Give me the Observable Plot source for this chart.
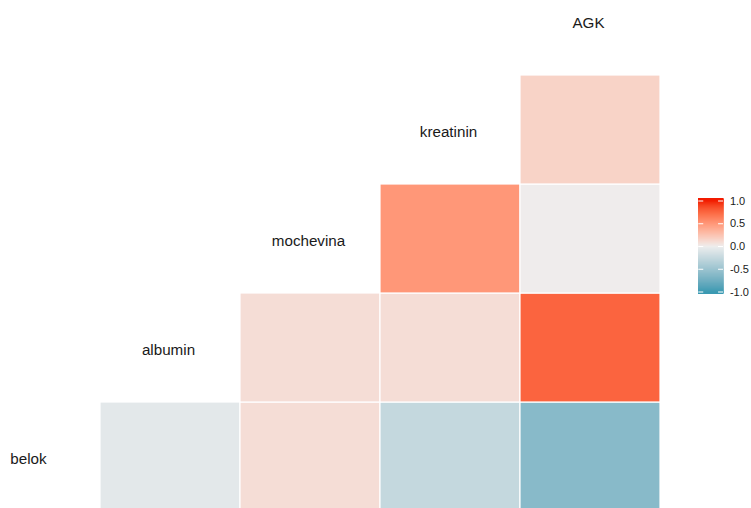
<!DOCTYPE html>
<html>
<head>
<meta charset="utf-8">
<script src="https://cdn.jsdelivr.net/npm/d3@7"></script>
<script src="https://cdn.jsdelivr.net/npm/@observablehq/plot@0.6"></script>
<style>
  html, body { margin: 0; padding: 0; background: #fff; }
  #wrap { position: relative; width: 751px; height: 508px; overflow: hidden; font-family: "Liberation Sans", Arial, sans-serif; }
  #legend { position: absolute; left: 680px; top: 180px; }
</style>
</head>
<body>
<div id="wrap"><div id="main"></div><div id="legend"></div></div>
<script>
// Variables (diagonal labels), bottom-left to top-right
const variables = ["belok", "albumin", "mochevina", "kreatinin", "AGK"];
// Pairwise correlations (row variable, column variable, value)
const pairRow = ["belok", "belok", "belok", "belok", "albumin", "albumin", "albumin", "mochevina", "mochevina", "kreatinin"];
const pairCol = ["albumin", "mochevina", "kreatinin", "AGK", "mochevina", "kreatinin", "AGK", "kreatinin", "AGK", "AGK"];
const corrValues = [-0.07, 0.1, -0.26, -0.62, 0.1, 0.1, 0.76, 0.5, 0.01, 0.16];
// Legend ticks
const legendTicks = [1.0, 0.5, 0.0, -0.5, -1.0];

const cells = pairRow.map((r, i) => ({row: r, col: pairCol[i], r: corrValues[i]}));

const colorScale = {
  type: "linear",
  domain: [-1, 0, 1],
  range: ["#3B9AB2", "#EEEEEE", "#F21A00"],
  interpolate: "lab",
  clamp: true
};

const main = Plot.plot({
  width: 751,
  height: 508,
  margin: 0,
  style: {fontFamily: "'Liberation Sans', Arial, sans-serif", background: "white"},
  x: {domain: variables, range: [-42, 661], padding: 0, axis: null},
  y: {domain: variables.slice().reverse(), range: [-36, 512.7], padding: 0, axis: null},
  color: colorScale,
  marks: [
    Plot.cell(cells, {x: "col", y: "row", fill: "r", stroke: "white", strokeWidth: 1.2, inset: 0}),
    Plot.text(variables, {x: d => d, y: d => d, text: d => d, fontSize: 15.2, fill: "#1a1a1a", dx: -2, dy: 2})
  ]
});
document.getElementById("main").appendChild(main);

// Legend colour bar
const nbin = 96;
const lo = -1.048, hi = 1.048;
const step = (hi - lo) / nbin;
const bins = d3.range(nbin).map(i => ({y1: lo + i * step, y2: lo + (i + 1) * step, v: lo + (i + 0.5) * step}));

const legend = Plot.plot({
  width: 71,
  height: 125,
  margin: 0,
  style: {fontFamily: "'Liberation Sans', Arial, sans-serif", background: "transparent", overflow: "visible"},
  x: {domain: [0, 1], range: [18.3, 43], axis: null},
  y: {domain: [-1, 1], range: [111.5, 20.5], axis: null},
  color: colorScale,
  marks: [
    Plot.rect(bins, {x1: 0, x2: 1, y1: "y1", y2: "y2", fill: "v", stroke: "v", strokeWidth: 0.6, shapeRendering: "crispEdges"}),
    Plot.ruleY(legendTicks, {x1: 0, x2: 0.2, stroke: "white", strokeWidth: 1}),
    Plot.ruleY(legendTicks, {x1: 0.8, x2: 1, stroke: "white", strokeWidth: 1}),
    Plot.text(legendTicks, {x: 1.26, y: d => d, text: d => d.toFixed(1), textAnchor: "start", fontSize: 11, fill: "#1a1a1a"})
  ]
});
document.getElementById("legend").appendChild(legend);
</script>
</body>
</html>
